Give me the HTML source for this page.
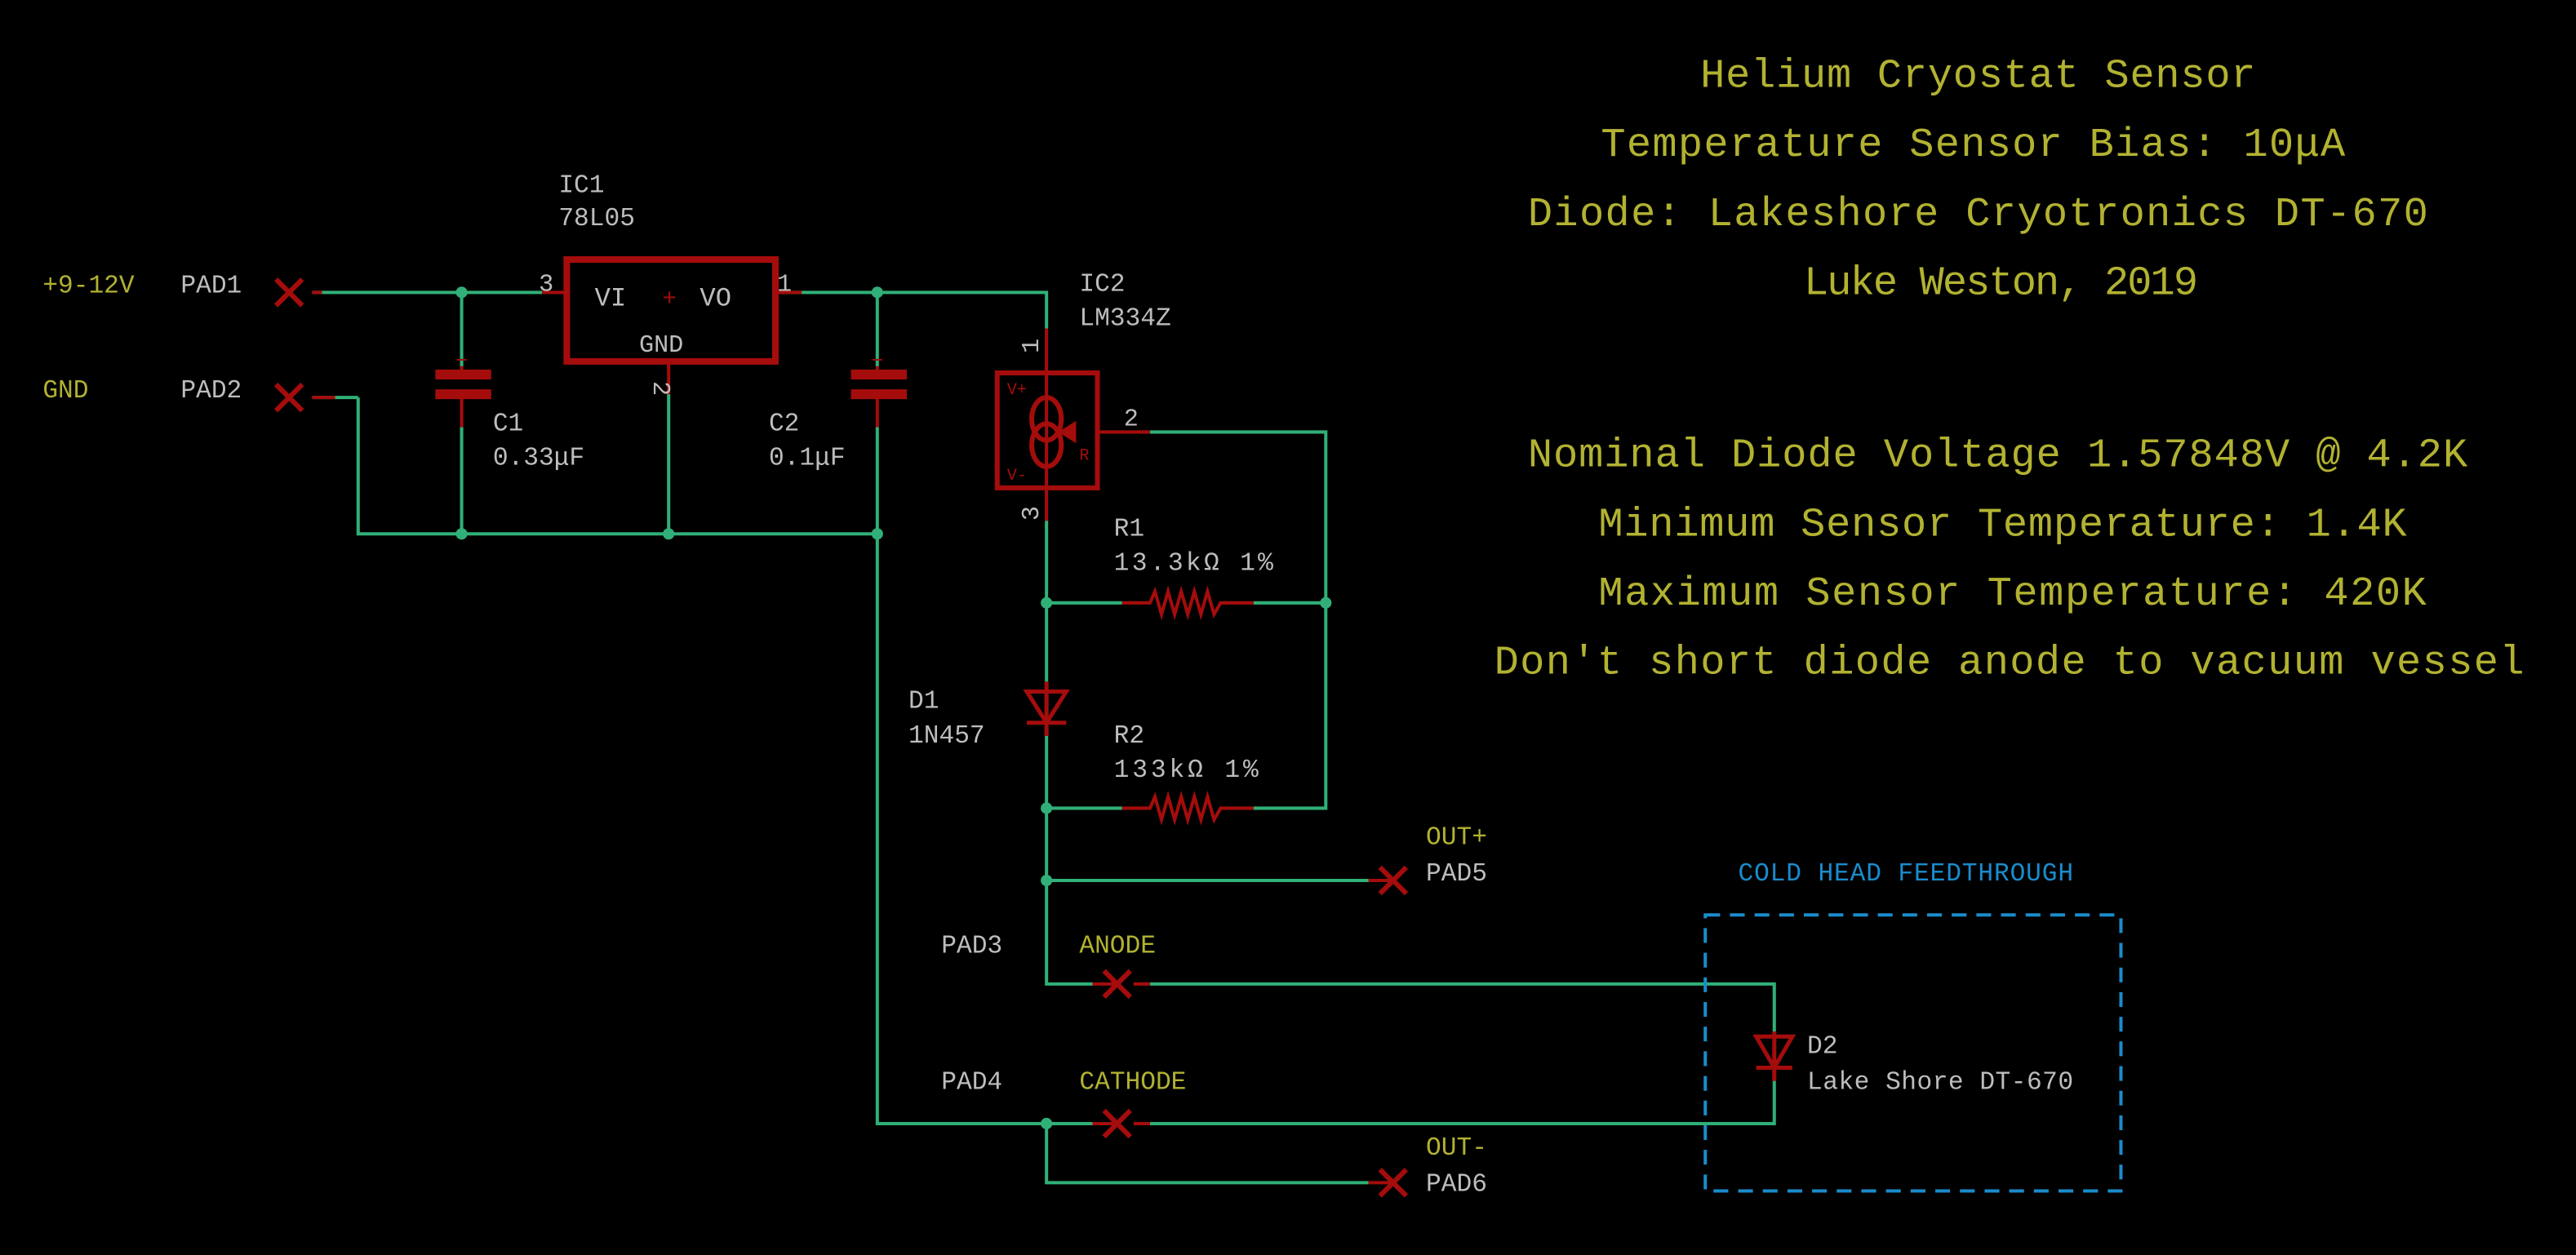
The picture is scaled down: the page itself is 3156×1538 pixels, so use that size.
<!DOCTYPE html>
<html><head><meta charset="utf-8"><style>
html,body{margin:0;padding:0;background:#000;}
svg{display:block;}
text{font-family:"Liberation Mono","DejaVu Sans Mono",monospace;}
.g{fill:#bdbdbd;font-size:15.5px;}
.y{fill:#b2b232;font-size:15.5px;}
.t{fill:#b2b232;font-size:25px;text-anchor:middle;}
.w{stroke:#30b078;stroke-width:2;fill:none;}
.r{stroke:#a50c0c;stroke-width:2;fill:none;}
.j{fill:#30b078;}
</style></head><body>
<svg width="3156" height="1538" viewBox="0 0 1568 764" preserveAspectRatio="none" xmlns="http://www.w3.org/2000/svg">
<rect width="1568" height="764" fill="#000"/>
<text class="t" x="1204" y="53" textLength="338">Helium Cryostat Sensor</text>
<text class="t" x="1201" y="95" textLength="453">Temperature Sensor Bias: 10μA</text>
<text class="t" x="1204" y="137" textLength="548">Diode: Lakeshore Cryotronics DT-670</text>
<text class="t" x="1218" y="179" textLength="240">Luke Weston, 2019</text>
<text class="t" x="1216" y="284" textLength="572">Nominal Diode Voltage 1.57848V @ 4.2K</text>
<text class="t" x="1219" y="326" textLength="492">Minimum Sensor Temperature: 1.4K</text>
<text class="t" x="1225" y="368" textLength="504">Maximum Sensor Temperature: 420K</text>
<text class="t" x="1223" y="410" textLength="627">Don't short diode anode to vacuum vessel</text>

<path class="w" d="M190 178H330 M472 178H488 M488 178H637V200 M218 242V325H534 M190 242H218 M281 178V223 M281 260V325 M534 178V223 M534 260V684H665 M407 240V325 M700 263H807V492H763 M637 317V415 M637 367H683 M763 367H807 M637 448V599H665 M637 492H683 M637 536H833 M700 599H1080V628 M1080 658V684H700 M637 684V720H833"/>
<g class="j">
<circle cx="281" cy="178" r="3.5"/><circle cx="534" cy="178" r="3.5"/>
<circle cx="281" cy="325" r="3.5"/><circle cx="407" cy="325" r="3.5"/><circle cx="534" cy="325" r="3.5"/>
<circle cx="637" cy="367" r="3.5"/><circle cx="807" cy="367" r="3.5"/>
<circle cx="637" cy="492" r="3.5"/><circle cx="637" cy="536" r="3.5"/>
<circle cx="637" cy="684" r="3.5"/>
</g>
<g class="r">
<path d="M190 178H196 M190 242H204 M330 178H345 M472 178H488 M407 220V240"/>
<rect x="345" y="158" width="127" height="62" stroke-width="4"/>
<path d="M404 181h7M407.5 177.5v7" stroke-width="1"/>
<path d="M281 223V228 M281 241V260"/>
<rect x="266" y="226" width="32" height="4" fill="#a50c0c"/><rect x="266" y="238" width="32" height="4" fill="#a50c0c"/>
<path d="M278 219h6" stroke-width="1"/>
<path d="M534 223V228 M534 241V260"/>
<rect x="519" y="226" width="32" height="4" fill="#a50c0c"/><rect x="519" y="238" width="32" height="4" fill="#a50c0c"/>
<path d="M531 219h6" stroke-width="1"/>
<path d="M637 200V317 M668 263H700"/>
<rect x="607" y="227" width="61" height="70" stroke-width="3"/>
<ellipse cx="637" cy="255" rx="9" ry="13" stroke-width="3"/>
<ellipse cx="637" cy="271" rx="9" ry="13" stroke-width="3"/>
<path d="M646 263L654 258V268Z" fill="#a50c0c"/>
<path d="M683 367H700 L703 360 L707 374 L711 360 L715 374 L719 360 L723 374 L727 360 L731 374 L735 360 L739 374 L743 367H763"/>
<path d="M683 492H700 L703 485 L707 499 L711 485 L715 499 L719 485 L723 499 L727 485 L731 499 L735 485 L739 499 L743 492H763"/>
<path d="M637 415V448 M625 421H649L637 440Z M625 440H649" stroke-width="2.5"/>
<path d="M1080 628V658 M1069 631H1091L1080 650Z M1069 650H1091" stroke-width="2.5"/>
<path d="M833 536H848 M833 720H848 M665 599H680 M665 684H680 M690 599H700 M690 684H700"/>
</g>
<g stroke="#a50c0c" stroke-width="3">
<path d="M168 170l16 16M184 170l-16 16"/>
<path d="M168 234l16 16M184 234l-16 16"/>
<path d="M840 528l16 16M856 528l-16 16"/>
<path d="M840 712l16 16M856 712l-16 16"/>
<path d="M672 591l16 16M688 591l-16 16"/>
<path d="M672 676l16 16M688 676l-16 16"/>
</g>
<rect x="1038" y="557" width="253" height="168" fill="none" stroke="#1a8ccc" stroke-width="2" stroke-dasharray="9,6"/>
<text x="1058" y="536" style="fill:#1a8ccc;font-size:15.5px" textLength="204">COLD HEAD FEEDTHROUGH</text>

<text class="y" x="26" y="178">+9-12V</text>
<text class="g" x="110" y="178">PAD1</text>
<text class="y" x="26" y="242">GND</text>
<text class="g" x="110" y="242">PAD2</text>
<text class="g" x="340" y="117">IC1</text>
<text class="g" x="340" y="137">78L05</text>
<text x="362" y="186" style="fill:#bdbdbd;font-size:16px">VI</text>
<text x="426" y="186" style="fill:#bdbdbd;font-size:16px">VO</text>
<text x="389" y="214" style="fill:#bdbdbd;font-size:15px">GND</text>
<text x="328" y="177" style="fill:#bdbdbd;font-size:15px">3</text>
<text x="473" y="177" style="fill:#bdbdbd;font-size:15px">1</text>
<text x="398" y="232" style="fill:#bdbdbd;font-size:15px" transform="rotate(90 398 232)">2</text>
<text class="g" x="300" y="262">C1</text>
<text class="g" x="300" y="283">0.33μF</text>
<text class="g" x="468" y="262">C2</text>
<text class="g" x="468" y="283">0.1μF</text>
<text class="g" x="657" y="177">IC2</text>
<text class="g" x="657" y="198">LM334Z</text>
<text x="632" y="215" style="fill:#bdbdbd;font-size:15px" transform="rotate(-90 632 215)">1</text>
<text x="632" y="307" style="fill:#bdbdbd;font-size:15px" transform="rotate(-90 632 307)" dx="-10">3</text>
<text x="684" y="259" style="fill:#bdbdbd;font-size:15px">2</text>
<text x="613" y="240" style="fill:#a50c0c;font-size:10px">V+</text>
<text x="613" y="292" style="fill:#a50c0c;font-size:10px">V-</text>
<text x="657" y="280" style="fill:#a50c0c;font-size:10px">R</text>
<text class="g" x="678" y="326">R1</text>
<text class="g" x="678" y="347" textLength="97">13.3kΩ 1%</text>
<text class="g" x="553" y="431">D1</text>
<text class="g" x="553" y="452">1N457</text>
<text class="g" x="678" y="452">R2</text>
<text class="g" x="678" y="473" textLength="88">133kΩ 1%</text>
<text class="y" x="868" y="514">OUT+</text>
<text class="g" x="868" y="536">PAD5</text>
<text class="g" x="573" y="580">PAD3</text>
<text class="y" x="657" y="580">ANODE</text>
<text class="g" x="573" y="663">PAD4</text>
<text class="y" x="657" y="663">CATHODE</text>
<text class="y" x="868" y="703">OUT-</text>
<text class="g" x="868" y="725">PAD6</text>
<text class="g" x="1100" y="641">D2</text>
<text class="g" x="1100" y="663" textLength="162">Lake Shore DT-670</text>
</svg>
</body></html>
